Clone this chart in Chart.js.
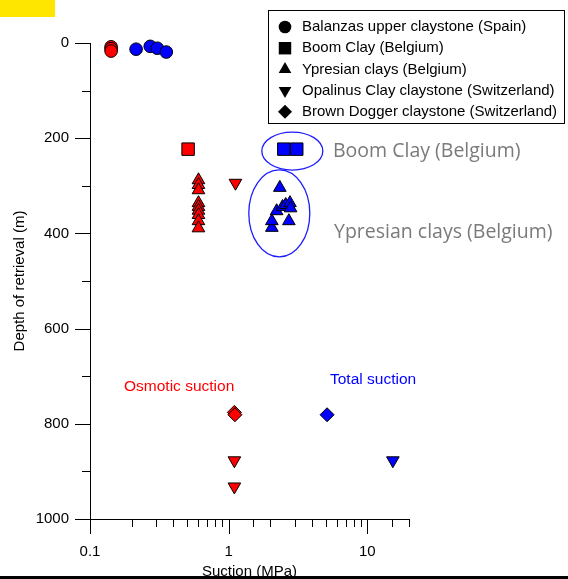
<!DOCTYPE html>
<html>
<head>
<meta charset="utf-8">
<script src="https://cdn.jsdelivr.net/npm/chart.js@4.4.1/dist/chart.umd.min.js"></script>
<style>
  html, body { margin: 0; padding: 0; background: #fff; }
  canvas { display: block; }
</style>
</head>
<body>
<canvas id="chart" width="568" height="579"></canvas>
<script>
// suction in MPa, depth of retrieval in m
const balanzasOsmoticSuction = [0.142, 0.142, 0.142]
const balanzasOsmoticDepth = [8, 12, 17]
const balanzasTotalSuction = [0.215, 0.272, 0.306, 0.355]
const balanzasTotalDepth = [13, 7, 11, 19]

const boomOsmoticSuction = [0.51]
const boomOsmoticDepth = [223]
const boomTotalSuction = [2.5, 3.1]
const boomTotalDepth = [223, 223]

const ypresianOsmoticSuction = [0.606, 0.606, 0.606, 0.606, 0.606, 0.606, 0.606, 0.606, 0.606]
const ypresianOsmoticDepth = [288, 298, 309, 336, 344, 352, 361, 374, 389]
const ypresianTotalSuction = [2.34, 2.05, 2.05, 2.22, 2.45, 2.58, 2.77, 2.8, 2.72]
const ypresianTotalDepth = [304, 388, 374, 353, 344, 340, 336, 347, 374]

const opalinusOsmoticSuction = [1.12, 1.1, 1.1]
const opalinusOsmoticDepth = [294, 877, 932]
const opalinusTotalSuction = [15.3]
const opalinusTotalDepth = [877]

const doggerOsmoticSuction = [1.1, 1.11]
const doggerOsmoticDepth = [776, 781]
const doggerTotalSuction = [5.13]
const doggerTotalDepth = [781]

// circled groups (centre in data units)
const groupCentreSuction = [2.88, 2.32]
const groupCentreDepth = [227, 358]
const groupLabels = ['Boom Clay (Belgium)', 'Ypresian clays (Belgium)']

const legendLabels = [
    'Balanzas upper claystone (Spain)',
    'Boom Clay (Belgium)',
    'Ypresian clays (Belgium)',
    'Opalinus Clay claystone (Switzerland)',
    'Brown Dogger claystone (Switzerland)'
]

const xTickLabels = [0.1, 1, 10]
const yTickLabels = [0, 200, 400, 600, 800, 1000]

const FONT = "'Liberation Sans', Arial, sans-serif"
const RED = '#ff0000'
const BLUE = '#0000ff'

const markers = {
    circle: {pointStyle: 'circle', pointRadius: 6.3, pointRotation: 0},
    square: {pointStyle: 'rect', pointRadius: 8.8, pointRotation: 0},
    up: {pointStyle: 'triangle', pointRadius: 7.3, pointRotation: 0},
    down: {pointStyle: 'triangle', pointRadius: 7.3, pointRotation: 180},
    diamond: {pointStyle: 'rectRot', pointRadius: 7, pointRotation: 0}
}

const toPoints = (xs, ys) => xs.map((x, i) => ({x: x, y: ys[i]}))

const makeSet = (label, xs, ys, marker, color) => ({
    label: label,
    data: toPoints(xs, ys),
    ...markers[marker],
    pointBackgroundColor: color,
    pointBorderColor: '#000000',
    pointBorderWidth: 1,
    pointHoverRadius: markers[marker].pointRadius,
    clip: false
})

const datasets = [
    makeSet('Balanzas osmotic', balanzasOsmoticSuction, balanzasOsmoticDepth, 'circle', RED),
    makeSet('Balanzas total', balanzasTotalSuction, balanzasTotalDepth, 'circle', BLUE),
    makeSet('Boom osmotic', boomOsmoticSuction, boomOsmoticDepth, 'square', RED),
    makeSet('Boom total', boomTotalSuction, boomTotalDepth, 'square', BLUE),
    makeSet('Ypresian osmotic', ypresianOsmoticSuction, ypresianOsmoticDepth, 'up', RED),
    makeSet('Ypresian total', ypresianTotalSuction, ypresianTotalDepth, 'up', BLUE),
    makeSet('Opalinus osmotic', opalinusOsmoticSuction, opalinusOsmoticDepth, 'down', RED),
    makeSet('Opalinus total', opalinusTotalSuction, opalinusTotalDepth, 'down', BLUE),
    makeSet('Dogger osmotic', doggerOsmoticSuction, doggerOsmoticDepth, 'diamond', RED),
    makeSet('Dogger total', doggerTotalSuction, doggerTotalDepth, 'diamond', BLUE)
]

const legendMarkers = ['circle', 'square', 'up', 'down', 'diamond']

const decorPlugin = {
    id: 'decor',
    afterDraw(chart) {
        const ctx = chart.ctx
        const xs = chart.scales.x
        const ys = chart.scales.y
        const area = chart.chartArea
        ctx.save()

        // tick marks, outward, long for labelled ones
        ctx.strokeStyle = '#000'
        ctx.lineWidth = 1
        ctx.beginPath()
        xs.ticks.forEach(t => {
            const px = Math.round(xs.getPixelForValue(t.value)) + 0.5
            const len = xTickLabels.some(v => Math.abs(v - t.value) < 1e-9) ? 15 : 8
            ctx.moveTo(px, area.bottom)
            ctx.lineTo(px, area.bottom + len)
        })
        ys.ticks.forEach(t => {
            const py = Math.round(ys.getPixelForValue(t.value)) + 0.5
            const len = yTickLabels.includes(t.value) ? 15 : 8
            ctx.moveTo(area.left - len, py)
            ctx.lineTo(area.left, py)
        })
        ctx.stroke()

        // ellipses round the two Belgian groups
        const radii = [[30.5, 19], [30.5, 43.5]]
        ctx.strokeStyle = '#1c1cff'
        ctx.lineWidth = 1.3
        groupCentreSuction.forEach((s, i) => {
            const cx = xs.getPixelForValue(s)
            const cy = ys.getPixelForValue(groupCentreDepth[i])
            ctx.beginPath()
            ctx.ellipse(cx, cy, radii[i][0], radii[i][1], 0, 0, Math.PI * 2)
            ctx.stroke()
        })

        // group labels
        ctx.fillStyle = '#7a7a7a'
        ctx.font = "19.5px 'Open Sans', sans-serif"
        ctx.textBaseline = 'middle'
        ctx.textAlign = 'left'
        ctx.fillText(groupLabels[0], 333, 151)
        ctx.fillText(groupLabels[1], 334, 232)

        ctx.font = '15.5px ' + FONT
        ctx.fillStyle = RED
        ctx.fillText('Osmotic suction', 124, 387)
        ctx.fillStyle = BLUE
        ctx.fillText('Total suction', 330, 380)

        // legend box
        ctx.font = '15px ' + FONT
        ctx.fillStyle = '#fff'
        ctx.fillRect(268, 10, 297, 114)
        ctx.strokeStyle = '#000'
        ctx.lineWidth = 1
        ctx.strokeRect(268.5, 10.5, 296, 113)
        ctx.fillStyle = '#000'
        legendLabels.forEach((label, i) => {
            const y = 27 + i * 21.2
            const m = markers[legendMarkers[i]]
            Chart.helpers.drawPoint(ctx, {
                pointStyle: m.pointStyle,
                radius: m.pointRadius,
                rotation: m.pointRotation,
                borderWidth: 0
            }, 285, y)
            ctx.fillStyle = '#000'
            ctx.fillText(label, 302, y)
        })

        // page decorations
        ctx.fillStyle = '#ffe600'
        ctx.fillRect(0, 0, 55, 17)
        ctx.fillStyle = '#000'
        ctx.fillRect(0, 576, 568, 3)
        ctx.restore()
    }
}

new Chart(document.getElementById('chart'), {
    type: 'scatter',
    data: {datasets: datasets},
    options: {
        responsive: false,
        animation: false,
        layout: {padding: {top: 43, right: 159, left: 0, bottom: 0}},
        plugins: {
            legend: {display: false},
            tooltip: {enabled: false}
        },
        scales: {
            x: {
                type: 'logarithmic',
                position: 'bottom',
                min: 0.1,
                max: 20,
                afterFit: (scale) => { scale.height = 60 },
                border: {display: true, color: '#000', width: 1},
                grid: {drawOnChartArea: false, drawTicks: true, tickLength: 15, color: 'rgba(0,0,0,0)'},
                ticks: {
                    autoSkip: false,
                    maxRotation: 0,
                    padding: 9,
                    color: '#000',
                    font: {family: FONT, size: 15},
                    callback: (v) => xTickLabels.some(l => Math.abs(l - v) < 1e-9) ? String(v) : ''
                },
                title: {
                    display: true,
                    text: 'Suction (MPa)',
                    color: '#000',
                    font: {family: FONT, size: 15, lineHeight: 1},
                    padding: {top: 0, bottom: 0}
                }
            },
            y: {
                type: 'linear',
                reverse: true,
                min: 0,
                max: 1000,
                afterFit: (scale) => { scale.width = 90 },
                border: {display: true, color: '#000', width: 1},
                grid: {drawOnChartArea: false, drawTicks: true, tickLength: 15, color: 'rgba(0,0,0,0)'},
                ticks: {
                    stepSize: 100,
                    autoSkip: false,
                    padding: 6,
                    color: '#000',
                    font: {family: FONT, size: 15},
                    callback: (v) => yTickLabels.includes(v) ? String(v) : ''
                },
                title: {
                    display: true,
                    text: 'Depth of retrieval (m)',
                    color: '#000',
                    font: {family: FONT, size: 15, lineHeight: 1},
                    padding: {top: 12, bottom: 0}
                }
            }
        }
    },
    plugins: [decorPlugin]
})
</script>
</body>
</html>
